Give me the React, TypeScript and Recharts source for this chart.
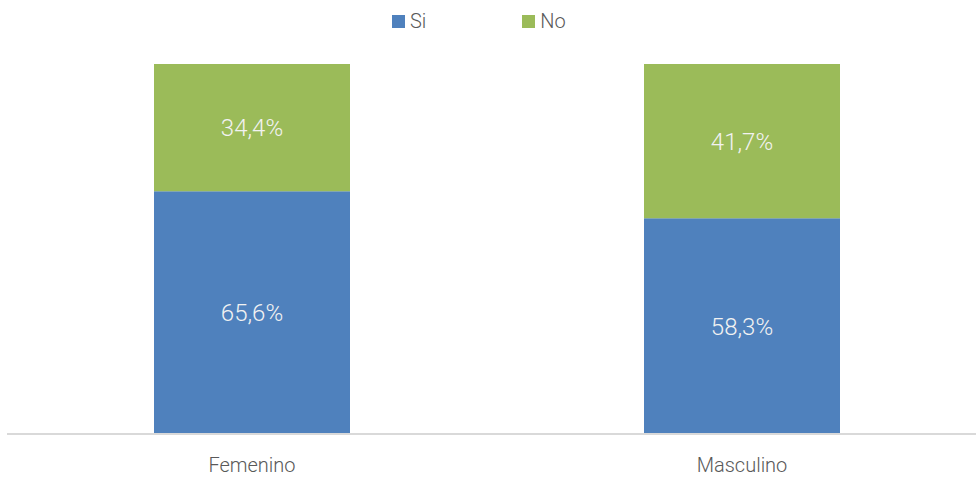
import { BarChart, Bar, XAxis, YAxis, Legend, LabelList } from 'recharts';

// Categories and series values (percent)
const categories = ['Femenino', 'Masculino'];
const siValues = [65.6, 58.3];
const noValues = [34.4, 41.7];

const SERIES = [
    { key: 'si', name: 'Si', color: '#4F81BD' },
    { key: 'no', name: 'No', color: '#9BBB59' },
];

const FONT = 'Roboto, "Open Sans", sans-serif';
const TEXT_GRAY = '#595959';

const data = categories.map((name, i) => ({ name, si: siValues[i], no: noValues[i] }));

const formatPct = (v: any) => `${Number(v).toFixed(1).replace('.', ',')}%`;

// Legend drawn as plain squares + text, like the original
const LegendContent = () => (
    <div style={{ display: 'flex', alignItems: 'center', height: 30, paddingLeft: 392, fontFamily: FONT, fontWeight: 300, fontSize: 20, color: TEXT_GRAY }}>
        {SERIES.map((s, i) => (
            <div key={s.key} style={{ display: 'flex', alignItems: 'center', marginRight: i === 0 ? 96 : 0 }}>
                <span style={{ display: 'inline-block', width: 13, height: 13, background: s.color, marginRight: 5 }} />
                <span>{s.name}</span>
            </div>
        ))}
    </div>
);

export default function App() {
    return (
        <div style={{ width: 976, height: 477, overflow: 'hidden', position: 'relative', background: '#fff' }}>
            <style>{'body{margin:0}'}</style>
            <BarChart
                width={988}
                height={477}
                data={data}
                barCategoryGap="30%"
                margin={{ top: 34, right: 1, left: 7, bottom: 0 }}
            >
                <Legend
                    verticalAlign="top"
                    content={<LegendContent />}
                    wrapperStyle={{ top: 6, left: 0, width: 976 }}
                />
                <XAxis
                    dataKey="name"
                    height={43}
                    tickLine={false}
                    tickMargin={18}
                    axisLine={{ stroke: '#d9d9d9', strokeWidth: 2 }}
                    tick={{ fill: TEXT_GRAY, fontSize: 20, fontFamily: FONT, fontWeight: 300 }}
                />
                <YAxis hide domain={[0, 100]} />
                {SERIES.map(s => (
                    <Bar key={s.key} dataKey={s.key} name={s.name} stackId="a" fill={s.color} isAnimationActive={false}>
                        <LabelList
                            dataKey={s.key}
                            position="center"
                            formatter={formatPct}
                            fill="#f2f2f2"
                            fontSize={24}
                            fontFamily={FONT}
                            fontWeight={300}
                        />
                    </Bar>
                ))}
            </BarChart>
        </div>
    );
}
